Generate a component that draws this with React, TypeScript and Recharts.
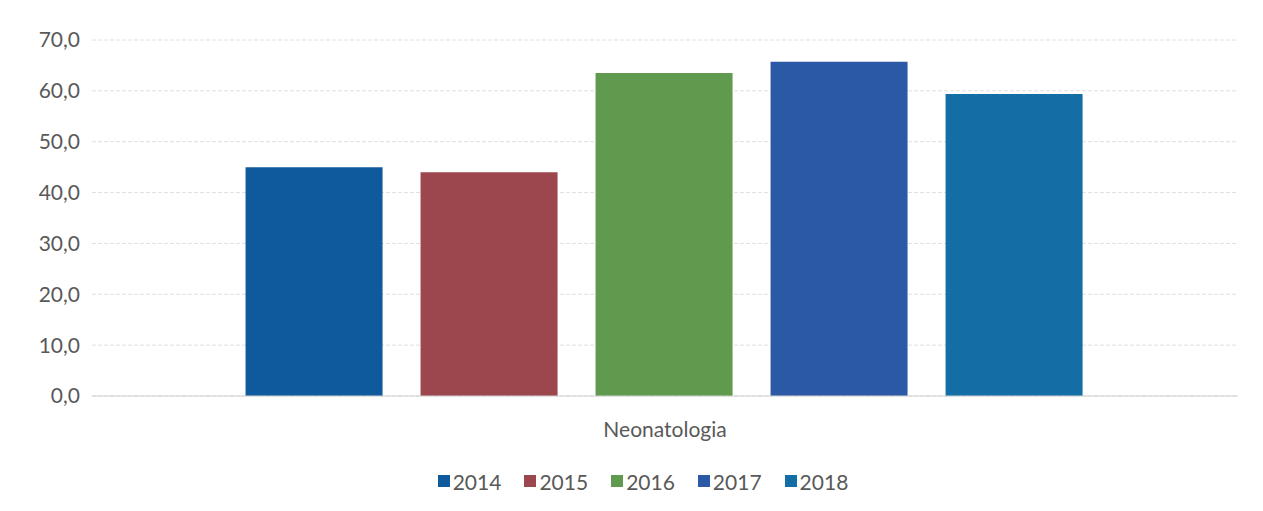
import { BarChart, Bar, XAxis, YAxis, CartesianGrid, Legend } from 'recharts';

const categories = ['Neonatologia'];
const years = ['2014', '2015', '2016', '2017', '2018'];
const values = [45.0, 44.0, 63.5, 65.7, 59.4];
const colors = ['#0f5a9c', '#9c474e', '#5f9a4f', '#2b59a6', '#136ea6'];
const yTicks = [0, 10, 20, 30, 40, 50, 60, 70];

const chartData = categories.map((name) => {
  const row: Record<string, string | number> = { name };
  years.forEach((y, i) => {
    row[y] = values[i];
  });
  return row;
});

const font = 'Lato, "Open Sans", sans-serif';

// legend with square swatches, spaced like the original
const renderLegend = () => (
  <div
    style={{
      display: 'flex',
      justifyContent: 'center',
      alignItems: 'center',
      gap: 23,
      height: 50,
      paddingTop: 20,
      paddingLeft: 48,
      boxSizing: 'border-box',
      fontFamily: font,
      fontSize: 21,
      color: '#595959',
    }}
  >
    {years.map((y, i) => (
      <span key={y} style={{ display: 'flex', alignItems: 'center' }}>
        <span style={{ width: 12, height: 12, background: colors[i], marginRight: 3 }} />
        {y}
      </span>
    ))}
  </div>
);

export default function App() {
  return (
    <div style={{ position: 'absolute', left: 0, top: 0, background: '#fff' }}>
      <BarChart
        width={1263}
        height={511}
        data={chartData}
        margin={{ top: 40, right: 25, bottom: 15, left: 0 }}
        barCategoryGap="13.4%"
        barGap={38}
      >
        <CartesianGrid vertical={false} stroke="#e0e0e0" strokeDasharray="4 2" />
        <XAxis
          dataKey="name"
          axisLine={{ stroke: '#d0d0d0' }}
          tickLine={false}
          tick={{ fill: '#595959', fontSize: 21, fontFamily: font }}
          height={50}
          dy={18}
        />
        <YAxis
          domain={[0, 70]}
          ticks={yTicks}
          axisLine={false}
          tickLine={false}
          width={92}
          tick={{ fill: '#595959', fontSize: 21, fontFamily: font }}
          tickFormatter={(v: number) => v.toFixed(1).replace('.', ',')}
          dx={-4}
        />
        <Legend verticalAlign="bottom" height={50} content={renderLegend} />
        {years.map((y, i) => (
          <Bar key={y} dataKey={y} fill={colors[i]} isAnimationActive={false} />
        ))}
      </BarChart>
    </div>
  );
}
